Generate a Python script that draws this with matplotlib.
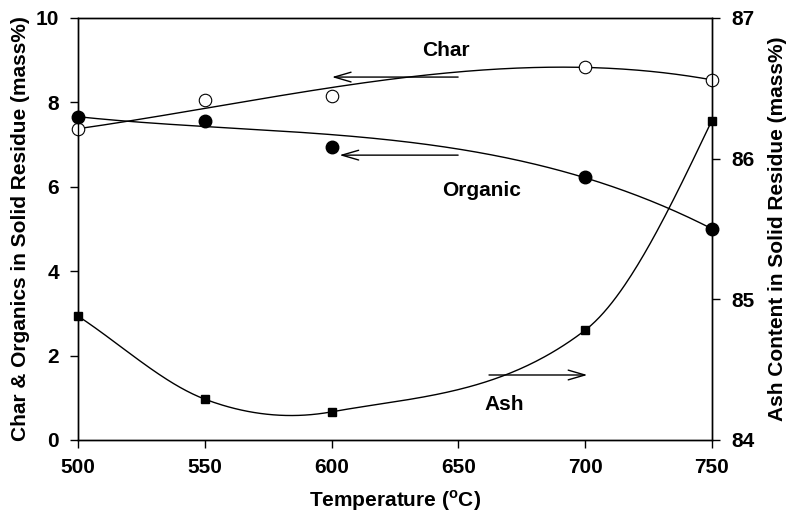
import numpy as np
import matplotlib
matplotlib.use("Agg")
import matplotlib.pyplot as plt

plt.rcParams['font.family'] = ['Liberation Sans', 'DejaVu Sans']
plt.rcParams['font.weight'] = 'bold'

# data
temp = [500, 550, 600, 700, 750]
char = [7.37, 8.06, 8.15, 8.84, 8.53]
organic = [7.65, 7.56, 6.94, 6.23, 5.00]
ash = [84.88, 84.29, 84.20, 84.78, 86.27]   # right axis


def hermite_spline(x, y, xs):
    # curve through the points, tangents from neighbours,
    # last tangent from a parabola through the last three points
    x = np.asarray(x, float)
    y = np.asarray(y, float)
    n = len(x)
    m = np.empty(n)
    for i in range(1, n - 1):
        m[i] = (y[i + 1] - y[i - 1]) / (x[i + 1] - x[i - 1])
    m[0] = (y[1] - y[0]) / (x[1] - x[0])
    e0 = (y[-2] - y[-3]) / (x[-2] - x[-3])
    e1 = (y[-1] - y[-2]) / (x[-1] - x[-2])
    m[-1] = e1 + (e1 - e0) / (x[-1] - x[-3]) * (x[-1] - x[-2])
    out = np.empty_like(xs)
    for k, t in enumerate(xs):
        i = int(np.clip(np.searchsorted(x, t) - 1, 0, n - 2))
        h = x[i + 1] - x[i]
        s = (t - x[i]) / h
        out[k] = (2 * s**3 - 3 * s**2 + 1) * y[i] + (s**3 - 2 * s**2 + s) * h * m[i] \
            + (-2 * s**3 + 3 * s**2) * y[i + 1] + (s**3 - s**2) * h * m[i + 1]
    return out


xs = np.linspace(500, 750, 300)

fig = plt.figure(figsize=(7.9, 5.14), dpi=100)
ax = fig.add_axes([0.099, 0.144, 0.802, 0.821])
ax2 = ax.twinx()

char_fit = np.polyfit(temp, char, 3, w=[3, 1, 1, 3, 3])
org_fit = np.polyfit(temp, organic, 3, w=[3, 1.5, 1, 3, 3])
ax.plot(xs, np.polyval(char_fit, xs), color='black', lw=1)
ax.plot(xs, np.polyval(org_fit, xs), color='black', lw=1)
ax.plot(temp, char, 'o', mfc='white', mec='black', ms=9, mew=0.8, clip_on=False, zorder=3)
ax.plot(temp, organic, 'o', mfc='black', mec='black', ms=9, clip_on=False, zorder=3)

ax2.plot(xs, hermite_spline(temp, ash, xs), color='black', lw=1)
ax2.plot(temp, ash, 's', color='black', ms=6, clip_on=False)

ax.set_xlim(500, 750)
ax.set_ylim(0, 10)
ax2.set_ylim(84, 87)
ax.set_xticks([500, 550, 600, 650, 700, 750])
ax.set_yticks([0, 2, 4, 6, 8, 10])
ax2.set_yticks([84, 85, 86, 87])

for a in (ax, ax2):
    a.tick_params(direction='out', length=6, width=1, labelsize=15, pad=8)
    for s in a.spines.values():
        s.set_linewidth(1)
ax.tick_params(axis='x', pad=7)

ax.set_xlabel('Temperature ($^{\\mathregular{o}}$C)', fontsize=15, fontweight='bold', labelpad=8)
ax.set_ylabel('Char & Organics in Solid Residue (mass%)', fontsize=15, fontweight='bold', labelpad=4)
ax2.set_ylabel('Ash Content in Solid Residue (mass%)', fontsize=15, fontweight='bold', labelpad=10)

arrow = dict(arrowstyle='->,head_length=1.2,head_width=0.35', color='black', lw=1)
ax.annotate('', xy=(599, 8.6), xytext=(651, 8.6), arrowprops=arrow)
ax.annotate('', xy=(602, 6.75), xytext=(651, 6.75), arrowprops=arrow)
ax.annotate('', xy=(702, 1.54), xytext=(661, 1.54), arrowprops=arrow)

ax.text(645, 9.24, 'Char', fontsize=15, fontweight='bold', ha='center', va='center')
ax.text(659, 5.92, 'Organic', fontsize=15, fontweight='bold', ha='center', va='center')
ax.text(668, 0.83, 'Ash', fontsize=15, fontweight='bold', ha='center', va='center')

fig.savefig('out.png', dpi=100)
